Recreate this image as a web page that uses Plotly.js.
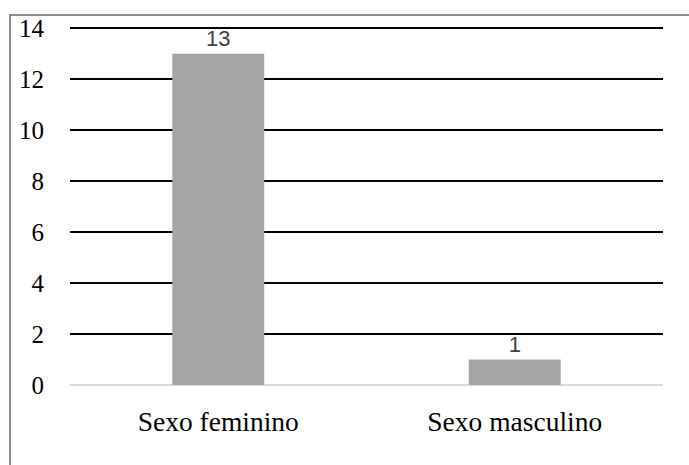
<!DOCTYPE html>
<html>
<head>
<meta charset="utf-8">
<script src="https://cdn.plot.ly/plotly-3.0.1.min.js"></script>
<style>
html,body{margin:0;padding:0;background:#fff;}
#wrap{position:relative;width:689px;height:465px;overflow:hidden;}
#frame{position:absolute;left:9px;top:14px;width:700px;height:500px;border-top:2px solid #8c8c8c;border-left:2px solid #8c8c8c;pointer-events:none;}
#chart{position:absolute;left:0;top:0;width:689px;height:465px;}
</style>
</head>
<body>
<div id="wrap">
<div id="chart"></div>
<div id="frame"></div>
</div>
<script>
const categories = ["Sexo feminino", "Sexo masculino"];
const values = [13, 1];
const yTicks = [0, 2, 4, 6, 8, 10, 12, 14];

const trace = {
  type: "bar",
  x: categories,
  y: values,
  width: 0.31,
  marker: {color: "#a5a5a5"},
  text: values.map(String),
  textposition: "outside",
  cliponaxis: false,
  textfont: {family: "Liberation Sans", size: 22, color: "#404040"},
  hoverinfo: "none"
};

const layout = {
  width: 689,
  height: 465,
  margin: {l: 70, r: 26, t: 27, b: 80},
  paper_bgcolor: "rgba(0,0,0,0)",
  plot_bgcolor: "rgba(0,0,0,0)",
  showlegend: false,
  font: {family: "Liberation Serif", size: 25, color: "#000"},
  xaxis: {
    type: "category",
    showgrid: false,
    showline: false,
    ticks: "",
    ticklabelstandoff: 17,
    tickfont: {family: "Liberation Serif", size: 27.5, color: "#000"},
    fixedrange: true
  },
  yaxis: {
    range: [0, 14.05],
    tickvals: yTicks,
    ticktext: yTicks.map(String),
    showgrid: true,
    gridcolor: "#000",
    gridwidth: 1.7,
    zeroline: true,
    zerolinecolor: "#d9d9d9",
    zerolinewidth: 2,
    showline: false,
    ticks: "",
    ticklabelstandoff: 25,
    tickfont: {family: "Liberation Serif", size: 25, color: "#000"},
    fixedrange: true
  }
};

Plotly.newPlot("chart", [trace], layout, {staticPlot: true, displayModeBar: false});
</script>
</body>
</html>
